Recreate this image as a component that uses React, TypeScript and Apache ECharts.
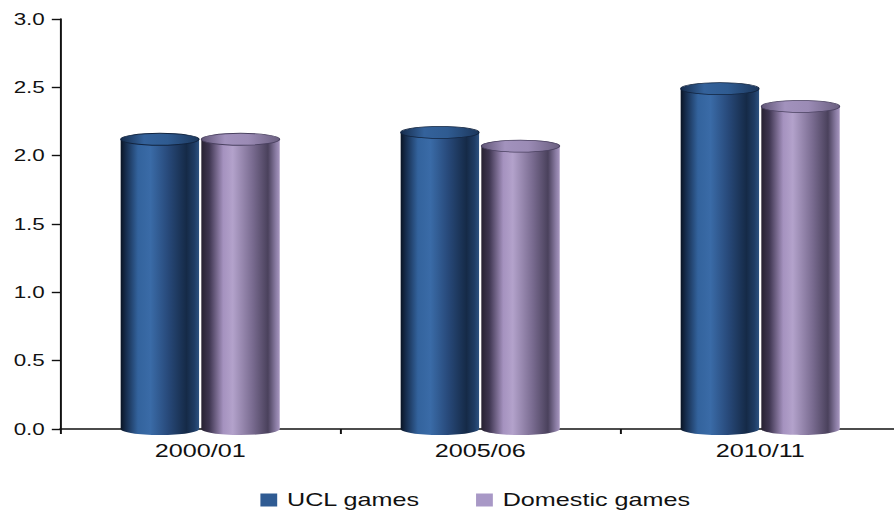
import React, { useEffect, useRef } from "react";
import * as echarts from "echarts";

const CATEGORIES = ["2000/01", "2005/06", "2010/11"];
const UCL_GAMES = [2.12, 2.17, 2.49];
const DOMESTIC_GAMES = [2.12, 2.07, 2.36];
const SERIES_NAMES = ["UCL games", "Domestic games"];

// The artwork is laid out narrow and stretched horizontally.
const STRETCH = 1.4;
const INNER_W = 646;
const H = 516;

const BAR_W = 56;
const BAR_OFFSET = 28.8;
const RY = 6;

const FONT = "'Liberation Sans', Arial, Helvetica, sans-serif";

const lg = (stops: [number, string][]) =>
  new echarts.graphic.LinearGradient(
    0,
    0,
    1,
    0,
    stops.map(([offset, color]) => ({ offset, color }))
  );

const STYLES = [
  {
    legend: "#2f5b93",
    body: () =>
      lg([
        [0, "#0a1424"],
        [0.07, "#172e4f"],
        [0.22, "#33639d"],
        [0.38, "#3a6ba7"],
        [0.6, "#284a7b"],
        [0.84, "#152a47"],
        [0.94, "#1f3c64"],
        [1, "#2c5180"],
      ]),
    top: () =>
      lg([
        [0, "#162c4c"],
        [0.3, "#34629b"],
        [0.6, "#2f5b91"],
        [1, "#1c375c"],
      ]),
    rim: "#12243f",
  },
  {
    legend: "#a898c6",
    body: () =>
      lg([
        [0, "#272131"],
        [0.1, "#3e3550"],
        [0.28, "#a592bf"],
        [0.4, "#b3a2cb"],
        [0.65, "#7a6c91"],
        [0.85, "#4a415c"],
        [0.95, "#8a7ca3"],
        [1, "#a796c0"],
      ]),
    top: () =>
      lg([
        [0, "#5f5475"],
        [0.3, "#a292bd"],
        [0.6, "#9b8bb5"],
        [1, "#6a5f80"],
      ]),
    rim: "#4a4160",
  },
];

function cylinderSeries(name: string, values: number[], idx: number) {
  const st = STYLES[idx];
  const offset = idx === 0 ? -BAR_OFFSET : BAR_OFFSET;
  return {
    type: "custom",
    name,
    itemStyle: { color: st.legend },
    encode: { x: 0, y: 1 },
    data: values.map((v, i) => [i, v]),
    renderItem: (params: any, api: any) => {
      const ci = api.value(0);
      const v = api.value(1);
      const top = api.coord([ci, v]);
      const base = api.coord([ci, 0]);
      const cx = top[0] + offset;
      const rx = BAR_W / 2;
      return {
        type: "group",
        children: [
          {
            type: "ellipse",
            shape: { cx, cy: base[1], rx, ry: RY },
            style: { fill: st.body() },
          },
          {
            type: "rect",
            shape: { x: cx - rx, y: top[1], width: BAR_W, height: base[1] - top[1] },
            style: { fill: st.body() },
          },
          {
            type: "ellipse",
            shape: { cx, cy: top[1], rx, ry: RY },
            style: { fill: st.top(), stroke: st.rim, lineWidth: 0.8 },
          },
        ],
      };
    },
  };
}

export default function App() {
  const ref = useRef<HTMLDivElement>(null);

  useEffect(() => {
    if (!ref.current) return;
    const chart = echarts.init(ref.current, undefined, { renderer: "svg" });
    chart.setOption({
      animation: false,
      backgroundColor: "#ffffff",
      grid: { left: 43, width: 600, top: 19, bottom: 87 },
      legend: {
        data: SERIES_NAMES,
        left: 186,
        top: 491,
        padding: 0,
        icon: "rect",
        itemWidth: 12,
        itemHeight: 13,
        itemGap: 40,
        textStyle: {
          fontFamily: FONT,
          fontSize: 18,
          color: "#111",
          padding: [0, 0, 0, 2],
        },
      },
      xAxis: {
        type: "category",
        data: CATEGORIES,
        boundaryGap: true,
        axisLine: { lineStyle: { color: "#111", width: 1.5 } },
        axisTick: { show: true, length: 5, lineStyle: { color: "#111", width: 1.4 } },
        axisLabel: { fontFamily: FONT, fontSize: 18, color: "#111", margin: 13 },
        splitLine: { show: false },
      },
      yAxis: {
        type: "value",
        min: 0,
        max: 3,
        interval: 0.5,
        axisLine: { show: true, lineStyle: { color: "#111", width: 1.4 } },
        axisTick: { show: true, length: 6, lineStyle: { color: "#111", width: 1.4 } },
        axisLabel: {
          fontFamily: FONT,
          fontSize: 16,
          color: "#111",
          margin: 11,
          formatter: (v: number) => v.toFixed(1),
        },
        splitLine: { show: false },
      },
      series: [
        cylinderSeries(SERIES_NAMES[0], UCL_GAMES, 0),
        cylinderSeries(SERIES_NAMES[1], DOMESTIC_GAMES, 1),
      ],
    });
    return () => chart.dispose();
  }, []);

  return (
    <div
      style={{
        position: "fixed",
        left: 0,
        top: 0,
        width: 894,
        height: H,
        overflow: "hidden",
        background: "#fff",
      }}
    >
      <div
        ref={ref}
        style={{
          width: INNER_W,
          height: H,
          transform: `scaleX(${STRETCH})`,
          transformOrigin: "0 0",
        }}
      />
    </div>
  );
}
